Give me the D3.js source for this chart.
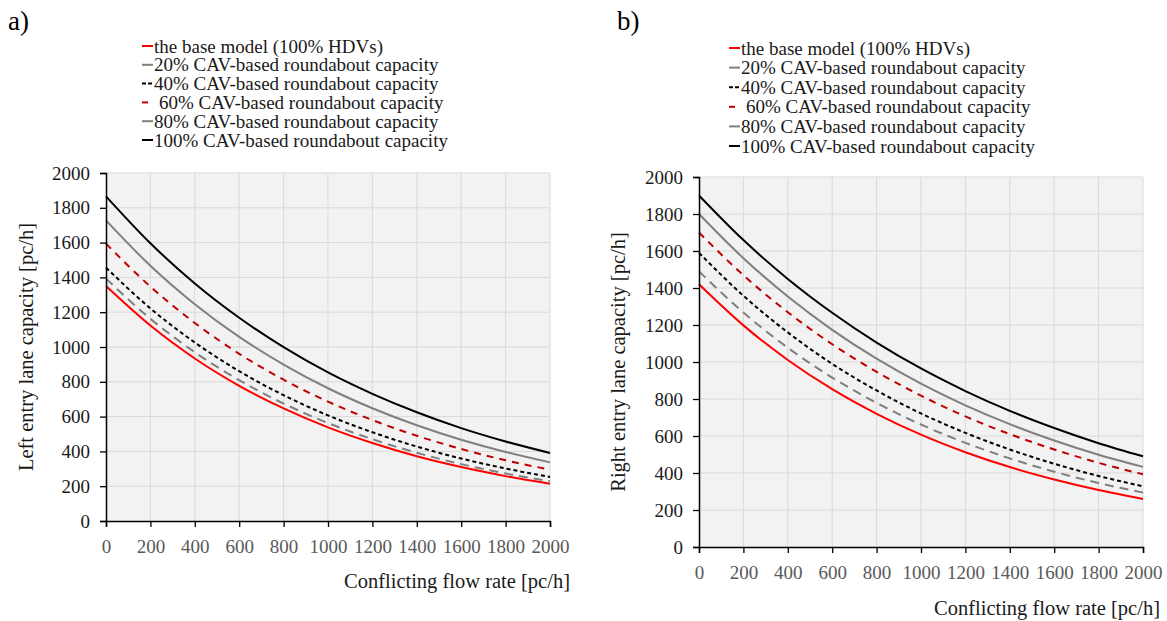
<!DOCTYPE html>
<html>
<head>
<meta charset="utf-8">
<title>Roundabout entry lane capacity</title>
<style>
  body { margin: 0; background: #fff; }
  svg text { font-family: "Liberation Serif", "Times New Roman", serif; }
  .grid line { stroke: #d9d9d9; stroke-width: 1; }
</style>
</head>
<body>
<svg width="1167" height="621"></svg>
<script src="https://d3js.org/d3.v7.min.js"></script>
<script>

// conflicting flow rate [pc/h], read every 200
var flow = [0, 200, 400, 600, 800, 1000, 1200, 1400, 1600, 1800, 2000];

var seriesNames = [
  "the base model (100% HDVs)",
  "20% CAV-based roundabout capacity",
  "40% CAV-based roundabout capacity",
  "60% CAV-based roundabout capacity",
  "80% CAV-based roundabout capacity",
  "100% CAV-based roundabout capacity"
];

// a) left entry lane capacity [pc/h]
var leftBase = [1350, 1123, 934, 777, 647, 538, 448, 372, 310, 258, 214];
var left20   = [1393, 1162, 970, 809, 675, 563, 470, 392, 327, 273, 228];
var left40   = [1456, 1222, 1026, 861, 723, 607, 510, 428, 359, 302, 253];
var left60   = [1594, 1347, 1138, 961, 812, 686, 580, 490, 414, 349, 295];
var left80   = [1728, 1467, 1246, 1058, 899, 763, 648, 550, 467, 397, 337];
var left100  = [1866, 1596, 1365, 1168, 999, 854, 731, 625, 534, 457, 391];

// b) right entry lane capacity [pc/h]
var rightBase = [1420, 1198, 1011, 853, 720, 607, 512, 432, 365, 308, 260];
var right20   = [1490, 1267, 1077, 916, 779, 662, 563, 479, 407, 346, 294];
var right40   = [1590, 1358, 1160, 990, 846, 722, 617, 527, 450, 384, 328];
var right60   = [1700, 1469, 1269, 1096, 947, 818, 706, 610, 527, 455, 393];
var right80   = [1800, 1561, 1354, 1174, 1018, 883, 766, 664, 576, 499, 433];
var right100  = [1900, 1659, 1449, 1266, 1105, 965, 843, 736, 643, 561, 490];

var yTicks = [0, 200, 400, 600, 800, 1000, 1200, 1400, 1600, 1800, 2000];

// line styles, same order as seriesNames
var styles = [
  { color: "#ff0000", dash: null },
  { color: "#7f7f7f", dash: "9,6" },
  { color: "#000000", dash: "4,3" },
  { color: "#c00000", dash: "7,6" },
  { color: "#7f7f7f", dash: null },
  { color: "#000000", dash: null }
];

var serif = '"Liberation Serif", "Times New Roman", serif';
var svg = d3.select("svg");

function drawPanel(cfg) {
  var x = d3.scaleLinear().domain([0, 2000]).range([cfg.left, cfg.right]);
  var y = d3.scaleLinear().domain([0, 2000]).range([cfg.bottom, cfg.top]);

  var g = svg.append("g");

  // plot background
  g.append("rect")
    .attr("x", cfg.left).attr("y", cfg.top)
    .attr("width", cfg.right - cfg.left)
    .attr("height", cfg.bottom - cfg.top)
    .attr("fill", "#f2f2f2");

  // gridlines
  var grid = g.append("g").attr("class", "grid");
  grid.selectAll(".h").data(yTicks.slice(1)).enter().append("line")
    .attr("x1", cfg.left).attr("x2", cfg.right)
    .attr("y1", function(d) { return y(d); })
    .attr("y2", function(d) { return y(d); });
  grid.selectAll(".v").data(flow.slice(1)).enter().append("line")
    .attr("y1", cfg.top).attr("y2", cfg.bottom)
    .attr("x1", function(d) { return x(d); })
    .attr("x2", function(d) { return x(d); });

  // curves
  var line = d3.line()
    .x(function(d, i) { return x(flow[i]); })
    .y(function(d) { return y(d); })
    .curve(d3.curveMonotoneX);

  cfg.series.forEach(function(s, i) {
    g.append("path")
      .datum(s)
      .attr("fill", "none")
      .attr("stroke", styles[i].color)
      .attr("stroke-width", 2)
      .attr("stroke-dasharray", styles[i].dash)
      .attr("d", line);
  });

  // axes
  var yAxis = g.append("g")
    .attr("transform", "translate(" + cfg.left + ",0)")
    .call(d3.axisLeft(y).tickValues(yTicks).tickFormat(d3.format("d")).tickSize(6).tickPadding(10));
  var xAxis = g.append("g")
    .attr("transform", "translate(0," + cfg.bottom + ")")
    .call(d3.axisBottom(x).tickValues(flow).tickFormat(d3.format("d")).tickSize(6).tickPadding(10));

  [yAxis, xAxis].forEach(function(ax) {
    ax.attr("font-family", serif).attr("font-size", 19);
    ax.selectAll("path").attr("stroke", "#000").attr("stroke-width", 1.5);
    ax.selectAll("line").attr("stroke", "#000").attr("stroke-width", 1.3);
    ax.selectAll("text").style("font-family", serif).style("font-size", "19px");
  });
  yAxis.selectAll("text").attr("fill", "#1a1a1a");
  xAxis.selectAll("text").attr("fill", "#595959").attr("dy", "0.85em");

  // axis titles
  g.append("text")
    .attr("transform", "translate(" + cfg.yTitleX + "," + ((cfg.top + cfg.bottom) / 2) + ") rotate(-90)")
    .attr("text-anchor", "middle")
    .attr("dominant-baseline", "central")
    .attr("font-size", 20.5)
    .attr("fill", "#1a1a1a")
    .text(cfg.yTitle);

  g.append("text")
    .attr("x", cfg.xTitleRight)
    .attr("y", cfg.xTitleY)
    .attr("text-anchor", "end")
    .attr("font-size", 20.5)
    .attr("fill", "#1a1a1a")
    .text("Conflicting flow rate [pc/h]");

  // panel label
  svg.append("text")
    .attr("x", cfg.labelX).attr("y", 30)
    .attr("font-size", 27)
    .attr("fill", "#000")
    .text(cfg.label);

  // legend
  var leg = svg.append("g");
  seriesNames.forEach(function(name, i) {
    var ly = cfg.legY + i * cfg.legStep;
    leg.append("line")
      .attr("x1", cfg.legX).attr("x2", cfg.legX + 11)
      .attr("y1", ly).attr("y2", ly)
      .attr("stroke", styles[i].color)
      .attr("stroke-width", 2)
      .attr("stroke-dasharray", i === 2 ? "4,2" : (i === 3 ? "6,6" : null));
    leg.append("text")
      .attr("x", cfg.legX + (i === 3 ? 17 : 12))
      .attr("y", ly)
      .attr("dominant-baseline", "central")
      .attr("font-size", 19)
      .attr("fill", "#1a1a1a")
      .text(name);
  });
}

drawPanel({
  label: "a)", labelX: 8,
  left: 106, right: 550, top: 173, bottom: 521,
  series: [leftBase, left20, left40, left60, left80, left100],
  yTitle: "Left entry lane capacity [pc/h]", yTitleX: 26,
  xTitleRight: 570, xTitleY: 588,
  legX: 142, legY: 46, legStep: 18.8
});

drawPanel({
  label: "b)", labelX: 617,
  left: 699, right: 1143, top: 177, bottom: 547,
  series: [rightBase, right20, right40, right60, right80, right100],
  yTitle: "Right entry lane capacity [pc/h]", yTitleX: 618,
  xTitleRight: 1160, xTitleY: 615,
  legX: 729, legY: 48, legStep: 19.6
});

</script>
</body>
</html>
